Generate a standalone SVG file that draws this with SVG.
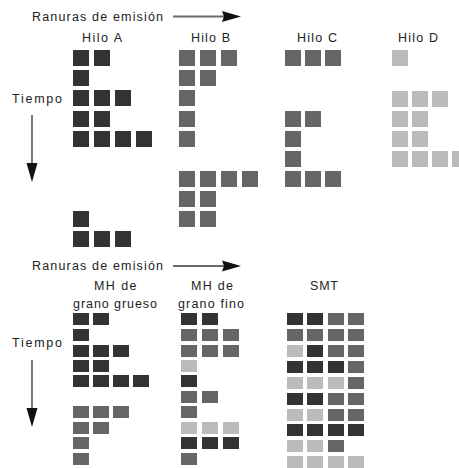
<svg xmlns="http://www.w3.org/2000/svg" width="459" height="468" viewBox="0 0 459 468">
<style>
text{font-family:"Liberation Sans",Arial,sans-serif;font-size:12.5px;fill:#222}
.d{fill:#333333}.m{fill:#666666}.l{fill:#bbbbbb}
.ln{stroke:#6a6a6a;stroke-width:1.8;fill:none}
.ah{fill:#111}
</style>
<rect width="459" height="468" fill="#fff"/>
<g id="labels">
<text x="32" y="21" textLength="131" lengthAdjust="spacing">Ranuras de emisión</text>
<text x="12" y="103" textLength="50" lengthAdjust="spacing">Tiempo</text>
<text x="32" y="270" textLength="131" lengthAdjust="spacing">Ranuras de emisión</text>
<text x="12" y="347" textLength="50" lengthAdjust="spacing">Tiempo</text>
</g>
<g id="connectors">
<line class="ln" x1="173" y1="16.5" x2="225" y2="16.5"/>
<polygon class="ah" points="222,11 241,16.5 222,22 224,16.5"/>
<line class="ln" x1="32" y1="115" x2="32" y2="166"/>
<polygon class="ah" points="26.5,163 37.5,163 32,182"/>
<line class="ln" x1="173" y1="266" x2="225" y2="266"/>
<polygon class="ah" points="222,260.5 241,266 222,271.5 224,266"/>
<line class="ln" x1="32" y1="360" x2="32" y2="411"/>
<polygon class="ah" points="26.5,408 37.5,408 32,427"/>
</g>
<g id="hilo-a">
<text x="82" y="42" textLength="40" lengthAdjust="spacing">Hilo A</text>
<g class="d">
<rect x="73" y="50" width="16" height="16"/><rect x="94" y="50" width="16" height="16"/>
<rect x="73" y="70" width="16" height="16"/>
<rect x="73" y="90" width="16" height="16"/><rect x="94" y="90" width="16" height="16"/><rect x="115" y="90" width="16" height="16"/>
<rect x="73" y="111" width="16" height="16"/><rect x="94" y="111" width="16" height="16"/>
<rect x="73" y="131" width="16" height="16"/><rect x="94" y="131" width="16" height="16"/><rect x="115" y="131" width="16" height="16"/><rect x="136" y="131" width="16" height="16"/>
<rect x="73" y="211" width="16" height="16"/>
<rect x="73" y="231" width="16" height="16"/><rect x="94" y="231" width="16" height="16"/><rect x="115" y="231" width="16" height="16"/>
</g>
</g>
<g id="hilo-b">
<text x="191" y="42" textLength="39" lengthAdjust="spacing">Hilo B</text>
<g class="m">
<rect x="179" y="50" width="16" height="16"/><rect x="200" y="50" width="16" height="16"/><rect x="221" y="50" width="16" height="16"/>
<rect x="179" y="70" width="16" height="16"/><rect x="200" y="70" width="16" height="16"/>
<rect x="179" y="90" width="16" height="16"/>
<rect x="179" y="111" width="16" height="16"/>
<rect x="179" y="131" width="16" height="16"/>
<rect x="179" y="171" width="16" height="16"/><rect x="200" y="171" width="16" height="16"/><rect x="221" y="171" width="16" height="16"/><rect x="242" y="171" width="16" height="16"/>
<rect x="179" y="191" width="16" height="16"/><rect x="200" y="191" width="16" height="16"/>
<rect x="179" y="211" width="16" height="16"/><rect x="200" y="211" width="16" height="16"/>
</g>
</g>
<g id="hilo-c">
<text x="297" y="42" textLength="40" lengthAdjust="spacing">Hilo C</text>
<g class="m">
<rect x="285" y="50" width="16" height="16"/><rect x="305" y="50" width="16" height="16"/><rect x="325" y="50" width="16" height="16"/>
<rect x="285" y="111" width="16" height="16"/><rect x="305" y="111" width="16" height="16"/>
<rect x="285" y="131" width="16" height="16"/>
<rect x="285" y="151" width="16" height="16"/>
<rect x="285" y="171" width="16" height="16"/><rect x="305" y="171" width="16" height="16"/><rect x="325" y="171" width="16" height="16"/>
</g>
</g>
<g id="hilo-d">
<text x="398" y="42" textLength="40" lengthAdjust="spacing">Hilo D</text>
<g class="l">
<rect x="392" y="50" width="16" height="16"/>
<rect x="392" y="91" width="16" height="16"/><rect x="412" y="91" width="16" height="16"/><rect x="432" y="91" width="16" height="16"/>
<rect x="392" y="111" width="16" height="16"/><rect x="412" y="111" width="16" height="16"/>
<rect x="392" y="131" width="16" height="16"/><rect x="412" y="131" width="16" height="16"/>
<rect x="392" y="151" width="16" height="16"/><rect x="412" y="151" width="16" height="16"/><rect x="432" y="151" width="16" height="16"/><rect x="452" y="151" width="16" height="16"/>
</g>
</g>
<g id="mh-grueso">
<text x="94" y="290" textLength="42.5" lengthAdjust="spacing">MH de</text>
<text x="73" y="307.5" textLength="84" lengthAdjust="spacing">grano grueso</text>
<g class="d">
<rect x="73" y="313" width="16" height="12"/><rect x="93" y="313" width="16" height="12"/>
<rect x="73" y="329" width="16" height="12"/>
<rect x="73" y="345" width="16" height="12"/><rect x="93" y="345" width="16" height="12"/><rect x="113" y="345" width="16" height="12"/>
<rect x="73" y="360" width="16" height="12"/><rect x="93" y="360" width="16" height="12"/>
<rect x="73" y="375" width="16" height="12"/><rect x="93" y="375" width="16" height="12"/><rect x="113" y="375" width="16" height="12"/><rect x="133" y="375" width="16" height="12"/>
</g>
<g class="m">
<rect x="73" y="406" width="16" height="12"/><rect x="93" y="406" width="16" height="12"/><rect x="113" y="406" width="16" height="12"/>
<rect x="73" y="422" width="16" height="12"/><rect x="93" y="422" width="16" height="12"/>
<rect x="73" y="437" width="16" height="12"/>
<rect x="73" y="453" width="16" height="12"/>
</g>
</g>
<g id="mh-fino">
<text x="191" y="290" textLength="42" lengthAdjust="spacing">MH de</text>
<text x="178" y="307.5" textLength="66" lengthAdjust="spacing">grano fino</text>
<rect class="d" x="181" y="313" width="16" height="12"/><rect class="d" x="202" y="313" width="16" height="12"/>
<rect class="m" x="181" y="329" width="16" height="12"/><rect class="m" x="202" y="329" width="16" height="12"/><rect class="m" x="223" y="329" width="16" height="12"/>
<rect class="m" x="181" y="345" width="16" height="12"/><rect class="m" x="202" y="345" width="16" height="12"/><rect class="m" x="223" y="345" width="16" height="12"/>
<rect class="l" x="181" y="360" width="16" height="12"/>
<rect class="d" x="181" y="375" width="16" height="12"/>
<rect class="m" x="181" y="391" width="16" height="12"/><rect class="m" x="202" y="391" width="16" height="12"/>
<rect class="m" x="181" y="406" width="16" height="12"/>
<rect class="l" x="181" y="422" width="16" height="12"/><rect class="l" x="202" y="422" width="16" height="12"/><rect class="l" x="223" y="422" width="16" height="12"/>
<rect class="d" x="181" y="437" width="16" height="12"/><rect class="d" x="202" y="437" width="16" height="12"/><rect class="d" x="223" y="437" width="16" height="12"/>
<rect class="m" x="181" y="453" width="16" height="12"/>
</g>
<g id="smt">
<text x="310" y="290" textLength="28" lengthAdjust="spacing">SMT</text>
<rect class="d" x="287" y="313" width="16" height="12"/><rect class="d" x="307" y="313" width="16" height="12"/><rect class="m" x="328" y="313" width="16" height="12"/><rect class="m" x="348" y="313" width="16" height="12"/>
<rect class="m" x="287" y="329" width="16" height="12"/><rect class="m" x="307" y="329" width="16" height="12"/><rect class="m" x="328" y="329" width="16" height="12"/><rect class="m" x="348" y="329" width="16" height="12"/>
<rect class="l" x="287" y="345" width="16" height="12"/><rect class="d" x="307" y="345" width="16" height="12"/><rect class="m" x="328" y="345" width="16" height="12"/><rect class="m" x="348" y="345" width="16" height="12"/>
<rect class="d" x="287" y="361" width="16" height="12"/><rect class="d" x="307" y="361" width="16" height="12"/><rect class="d" x="328" y="361" width="16" height="12"/><rect class="m" x="348" y="361" width="16" height="12"/>
<rect class="l" x="287" y="377" width="16" height="12"/><rect class="l" x="307" y="377" width="16" height="12"/><rect class="l" x="328" y="377" width="16" height="12"/><rect class="m" x="348" y="377" width="16" height="12"/>
<rect class="d" x="287" y="393" width="16" height="12"/><rect class="d" x="307" y="393" width="16" height="12"/><rect class="m" x="328" y="393" width="16" height="12"/><rect class="m" x="348" y="393" width="16" height="12"/>
<rect class="l" x="287" y="409" width="16" height="12"/><rect class="l" x="307" y="409" width="16" height="12"/><rect class="m" x="328" y="409" width="16" height="12"/><rect class="m" x="348" y="409" width="16" height="12"/>
<rect class="d" x="287" y="424" width="16" height="12"/><rect class="d" x="307" y="424" width="16" height="12"/><rect class="d" x="328" y="424" width="16" height="12"/><rect class="d" x="348" y="424" width="16" height="12"/>
<rect class="l" x="287" y="440" width="16" height="12"/><rect class="l" x="307" y="440" width="16" height="12"/><rect class="m" x="328" y="440" width="16" height="12"/>
<rect class="l" x="287" y="456" width="16" height="12"/><rect class="l" x="307" y="456" width="16" height="12"/><rect class="l" x="328" y="456" width="16" height="12"/><rect class="l" x="348" y="456" width="16" height="12"/>
</g>
</svg>
